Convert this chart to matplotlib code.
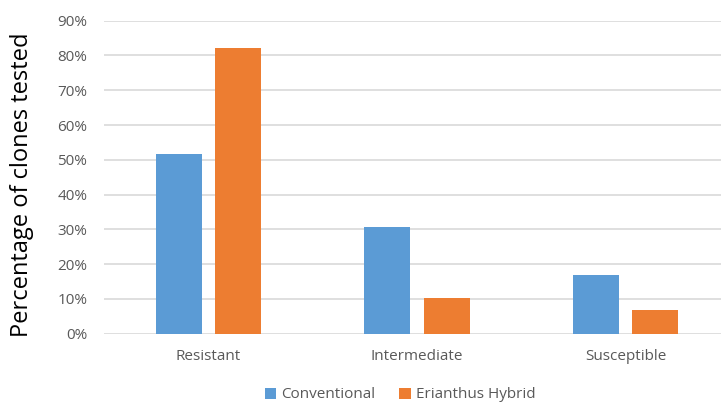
import matplotlib.pyplot as plt
import numpy as np

categories = ["Resistant", "Intermediate", "Susceptible"]
conventional = [0.516, 0.307, 0.168]
erianthus = [0.821, 0.104, 0.067]
series_names = ["Conventional", "Erianthus Hybrid"]
yticks = [0.0, 0.1, 0.2, 0.3, 0.4, 0.5, 0.6, 0.7, 0.8, 0.9]

plt.rcParams['font.family'] = ['Open Sans', 'DejaVu Sans']

fig = plt.figure(figsize=(7.21, 4.03), dpi=100)
# plot area runs a little past the right edge, like the original crop
ax = fig.add_axes([104 / 721, 69.3 / 403, 626 / 721, 313 / 403])

x = np.arange(len(categories))
width = 0.22
offset = 0.142
ax.bar(x - offset, conventional, width, color='#5B9BD5', label=series_names[0], zorder=3)
ax.bar(x + offset, erianthus, width, color='#ED7D31', label=series_names[1], zorder=3)

ax.set_xlim(-0.5, 2.5)
ax.set_ylim(0, 0.9)
ax.set_yticks(yticks)
ax.set_yticklabels([f"{int(round(v * 100))}%" for v in yticks])
ax.set_xticks(x)
ax.set_xticklabels(categories)

ax.grid(axis='y', color='#D9D9D9', linewidth=1.2, zorder=0)
ax.set_axisbelow(True)
for s in ax.spines.values():
    s.set_visible(False)
ax.tick_params(axis='both', length=0, colors='#595959', labelsize=11)
ax.tick_params(axis='y', pad=12)
ax.tick_params(axis='x', pad=11)

# y axis title placed by hand so it sits at the far left
fig.text(22 / 721, 1 - 184.5 / 403, "Percentage of clones tested", rotation=90,
         ha='center', va='center', fontsize=17, color='black')

leg = fig.legend(loc='center', bbox_to_anchor=(400 / 721, 1 - 395 / 403), ncol=2,
                 frameon=False, fontsize=11, handlelength=0.75, handleheight=0.75,
                 handletextpad=0.3, columnspacing=1.6)
for t in leg.get_texts():
    t.set_color('#595959')

fig.savefig("out.png", dpi=100)
